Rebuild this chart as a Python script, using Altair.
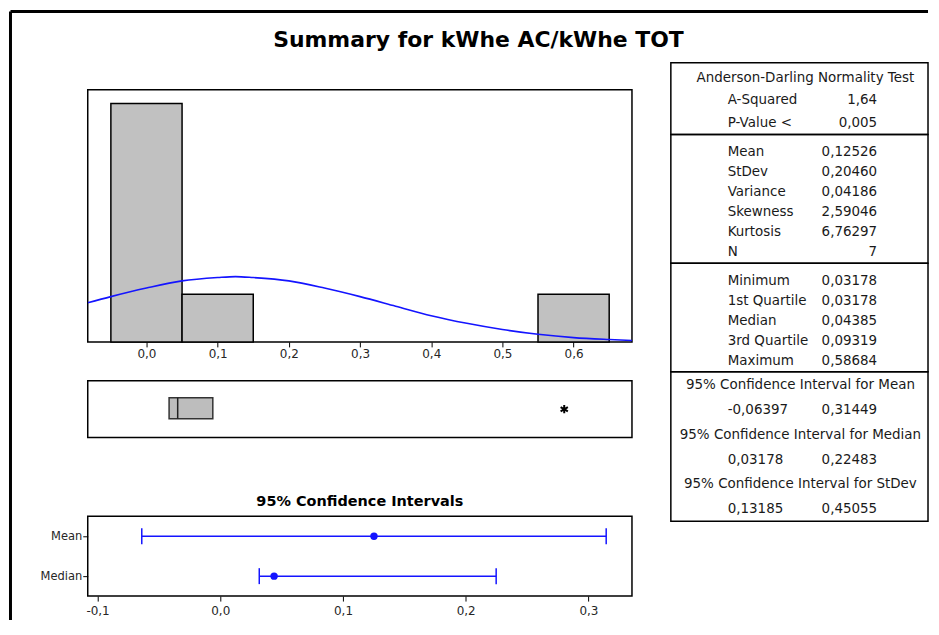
import altair as alt
import pandas as pd

# ---------------- data ----------------
bin_start = [-0.05, 0.05, 0.15, 0.25, 0.35, 0.45, 0.55]
bin_end = [0.05, 0.15, 0.25, 0.35, 0.45, 0.55, 0.65]
bin_count = [5, 1, 0, 0, 0, 0, 1]

# fitted normal curve (in count units)
curve_x = [-0.0825, -0.05, 0.0, 0.05, 0.1, 0.125, 0.15, 0.2, 0.25, 0.3, 0.35, 0.4, 0.45, 0.5, 0.55, 0.6, 0.65, 0.682]
curve_y = [0.82, 0.95, 1.13, 1.28, 1.35, 1.37, 1.35, 1.28, 1.13, 0.95, 0.75, 0.55, 0.39, 0.26, 0.16, 0.09, 0.05, 0.03]

box_q1 = [0.03178]
box_median = [0.04385]
box_q3 = [0.09319]
outliers = [0.58684]

ci_rows = ["Mean", "Median"]
ci_est = [0.12526, 0.04385]
ci_lo = [-0.06397, 0.03178]
ci_hi = [0.31449, 0.22483]

ad_title = "Anderson-Darling Normality Test"
ad_labels = ["A-Squared", "P-Value <"]
ad_values = ["1,64", "0,005"]
desc_labels = ["Mean", "StDev", "Variance", "Skewness", "Kurtosis", "N"]
desc_values = ["0,12526", "0,20460", "0,04186", "2,59046", "6,76297", "7"]
quart_labels = ["Minimum", "1st Quartile", "Median", "3rd Quartile", "Maximum"]
quart_values = ["0,03178", "0,03178", "0,04385", "0,09319", "0,58684"]
ci_titles = ["95% Confidence Interval for Mean",
             "95% Confidence Interval for Median",
             "95% Confidence Interval for StDev"]
ci_lo_txt = ["-0,06397", "0,03178", "0,13185"]
ci_hi_txt = ["0,31449", "0,22483", "0,45055"]

# ---------------- style ----------------
FONT = "DejaVu Sans"
BLUE = "#1414ff"
TXT = "#1a1a1a"
X_DOM = [-0.0825, 0.682]
LBL = "replace(replace(format(datum.value, '.1f'), '.', ','), '\u2212', '-')"
LEFT_W = 546
TABLE_W = 258
GAP = 39
one = pd.DataFrame({"a": [0]})


def blank(w, h, title=None):
    c = alt.Chart(one).mark_point(opacity=0).encode(x=alt.value(0), y=alt.value(0))
    if title is None:
        return c.properties(width=w, height=h, view=alt.ViewBackground(strokeOpacity=0))
    return c.properties(width=w, height=h, view=alt.ViewBackground(strokeOpacity=0), title=title)


# ---------------- histogram ----------------
hist_df = pd.DataFrame({"start": bin_start, "end": bin_end, "n": bin_count})
curve_df = pd.DataFrame({"x": curve_x, "y": curve_y})
xs = alt.Scale(domain=X_DOM, nice=False, zero=False)
ys = alt.Scale(domain=[0, 5.29], nice=False)

bars = alt.Chart(hist_df).transform_filter("datum.n > 0").mark_rect(
    fill="#c1c1c1", stroke="black", strokeWidth=1.5
).encode(
    x=alt.X("start:Q", scale=xs,
            axis=alt.Axis(values=[0, 0.1, 0.2, 0.3, 0.4, 0.5, 0.6], labelExpr=LBL, title=None)),
    x2="end:Q",
    y=alt.Y("n:Q", scale=ys, axis=None),
    y2=alt.datum(0),
)
curve = alt.Chart(curve_df).mark_line(
    color=BLUE, strokeWidth=1.6, interpolate="monotone", clip=True
).encode(x=alt.X("x:Q", scale=xs), y=alt.Y("y:Q", scale=ys))
hist = alt.layer(bars, curve).properties(width=LEFT_W, height=253)

# ---------------- boxplot ----------------
box_df = pd.DataFrame({"q1": box_q1, "med": box_median, "q3": box_q3})
box_rect = alt.Chart(box_df).mark_rect(fill="#bdbdbd", stroke="#333333", strokeWidth=1.5).encode(
    x=alt.X("q1:Q", scale=xs, axis=None), x2="q3:Q", y=alt.value(17), y2=alt.value(38))
box_med = alt.Chart(box_df).mark_rule(color="#222222", strokeWidth=1.5).encode(
    x=alt.X("med:Q", scale=xs, axis=None), y=alt.value(17), y2=alt.value(38))
star = alt.Chart(pd.DataFrame({"v": outliers})).mark_point(
    shape="M0,-1L0,1M-0.87,-0.5L0.87,0.5M-0.87,0.5L0.87,-0.5",
    filled=False, strokeWidth=2, size=70, color="black", opacity=1
).encode(x=alt.X("v:Q", scale=xs, axis=None))
# outer frame of the whole graphic (left and top edges)
frame_left = alt.Chart(one).mark_rule(color="black", strokeWidth=3).encode(
    x=alt.value(-77.5), y=alt.value(-370.5), y2=alt.value(240))
frame_top = alt.Chart(one).mark_rule(color="black", strokeWidth=3).encode(
    x=alt.value(-77.5), x2=alt.value(843), y=alt.value(-370.5))
box = alt.layer(box_rect, box_med, star, frame_left, frame_top).properties(width=LEFT_W, height=57)

# ---------------- confidence intervals ----------------
ci_df = pd.DataFrame({"row": ci_rows, "est": ci_est, "lo": ci_lo, "hi": ci_hi})
cx = alt.Scale(domain=[-0.108, 0.3355], nice=False, zero=False)
cy = alt.Scale(type="point", padding=0.5)
ci_base = alt.Chart(ci_df)
ci_rule = ci_base.mark_rule(color=BLUE, strokeWidth=1.5).encode(
    x=alt.X("lo:Q", scale=cx,
            axis=alt.Axis(values=[-0.1, 0.0, 0.1, 0.2, 0.3], labelExpr=LBL, title=None,
                          labelPadding=4)),
    x2="hi:Q",
    y=alt.Y("row:N", scale=cy, sort=ci_rows,
            axis=alt.Axis(title=None, tickSize=5, labelPadding=1, labelFontSize=11.5)),
)
ci_cap_lo = ci_base.mark_tick(color=BLUE, thickness=1.5, size=16, opacity=1).encode(
    x=alt.X("lo:Q", scale=cx), y=alt.Y("row:N", scale=cy, sort=ci_rows))
ci_cap_hi = ci_base.mark_tick(color=BLUE, thickness=1.5, size=16, opacity=1).encode(
    x=alt.X("hi:Q", scale=cx), y=alt.Y("row:N", scale=cy, sort=ci_rows))
ci_dot = ci_base.mark_circle(color=BLUE, size=55, opacity=1).encode(
    x=alt.X("est:Q", scale=cx), y=alt.Y("row:N", scale=cy, sort=ci_rows))
ci = alt.layer(ci_rule, ci_cap_lo, ci_cap_hi, ci_dot).properties(
    width=LEFT_W, height=80,
    title=alt.TitleParams("95% Confidence Intervals", font=FONT, fontSize=14.5,
                          fontWeight="bold", anchor="middle", frame="group",
                          offset=7, color="black"),
)

# ---------------- spacer with the main title ----------------
spacer = blank(LEFT_W, 27, alt.TitleParams(
    "Summary for kWhe AC/kWhe TOT", font=FONT, fontSize=22, fontWeight="bold",
    anchor="middle", frame="group", dx=119, offset=8, color="black"))


# ---------------- stats table ----------------
def section(kinds, labels, values, h, pad, al, hdr_x):
    df = pd.DataFrame({"row": list(range(len(kinds))), "kind": kinds,
                       "label": labels, "value": values})
    base = alt.Chart(df).encode(
        y=alt.Y("row:O", scale=alt.Scale(type="point", padding=pad, align=al), axis=None))
    txt = dict(baseline="middle", font=FONT, fontSize=13.5, color=TXT)
    layers = [
        base.transform_filter("datum.kind == 'row'").mark_text(align="left", **txt).encode(
            x=alt.value(57), text="label:N"),
        base.transform_filter("datum.kind == 'row'").mark_text(align="right", **txt).encode(
            x=alt.value(207), text="value:N"),
    ]
    if "hdr" in kinds:
        layers.append(base.transform_filter("datum.kind == 'hdr'").mark_text(align="center", **txt).encode(
            x=alt.value(hdr_x), text="label:N"))
    return alt.layer(*layers).properties(width=TABLE_W, height=h)


s1 = section(["hdr"] + ["row"] * len(ad_labels), [ad_title] + ad_labels, [""] + ad_values,
             72, 0.6, 0.556, 135)
s2 = section(["row"] * len(desc_labels), desc_labels, desc_values, 129, 0.725, 0.62, 130)
s3 = section(["row"] * len(quart_labels), quart_labels, quart_values, 109, 0.725, 0.62, 130)
k4, l4, v4 = [], [], []
for t, lo, hi in zip(ci_titles, ci_lo_txt, ci_hi_txt):
    k4 += ["hdr", "row"]
    l4 += [t, lo]
    v4 += ["", hi]
s4 = section(k4, l4, v4, 150, 0.5, 0.52, 130)

# each column is a flat, flush stack; nested flush groups count as zero width,
# so the column gap includes the left column's width
left = alt.vconcat(spacer, hist, blank(LEFT_W, 39), box, blank(LEFT_W, 79), ci,
                   spacing=0, bounds="flush")
table = alt.vconcat(s1, s2, s3, s4, spacing=0, bounds="flush")

chart = alt.hconcat(left, table, spacing=LEFT_W + GAP, bounds="flush").properties(
    padding={"left": 0, "top": 0, "right": 0, "bottom": 0}
).configure(background="white").configure_view(
    stroke="black", strokeWidth=1.5
).configure_axis(
    labelFont=FONT, labelFontSize=12, labelColor="#262626", tickColor="black",
    tickSize=5, domain=False, grid=False, labelPadding=2,
)

chart.save("out.html", embed_options={"renderer": "svg", "actions": False})
